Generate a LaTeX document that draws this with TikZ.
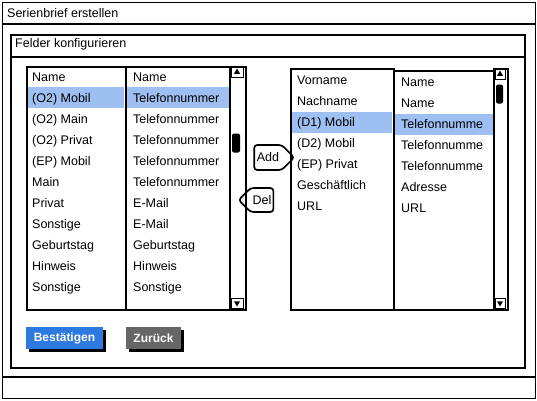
\documentclass[tikz,border=0pt]{standalone}
\usepackage{fontspec}
\setmainfont{Liberation Sans}
\usepackage{xcolor}
\usetikzlibrary{shapes.geometric, shapes.symbols, shadows, positioning}

\definecolor{selblue}{HTML}{9DBFF2}
\definecolor{btnblue}{HTML}{2C79E0}
\definecolor{btngray}{HTML}{666666}

\begin{document}
\begin{tikzpicture}[x=1pt, y=-1pt,
    box/.style={draw, line width=1.7pt, inner sep=0pt, anchor=north west},
    sel/.style={fill=selblue, inner sep=0pt, anchor=north west, minimum height=21pt},
    txt/.style={anchor=base west, inner sep=0pt, font=\fontsize{12.5}{15}\selectfont},
    thumb/.style={fill=black, rounded corners=2pt, minimum width=8pt, minimum height=19pt, inner sep=0pt},
    arrowbox/.style={draw, line width=1pt, minimum width=12pt, minimum height=10pt, inner sep=0pt},
    tri/.style={regular polygon, regular polygon sides=3, fill=black, minimum size=7pt, inner sep=0pt},
    movebtn/.style={draw, line width=1.7pt, signal, signal pointer angle=90, rounded corners=3pt, inner sep=2pt, font=\fontsize{12.5}{15}\selectfont},
    button/.style={text=white, minimum height=22pt, inner sep=0pt, font=\fontsize{12}{15}\selectfont\bfseries,
        drop shadow={shadow xshift=3pt, shadow yshift=-3pt, opacity=1, fill=black}}]
    \useasboundingbox (0,0) rectangle (537,400);

    % window
    \node[box, minimum width=533pt, minimum height=396pt] (win) at (1.5,1.5) {};
    \node[box, minimum width=533pt, minimum height=21.5pt] (wintitle) at (1.5,1.5) {};
    \node[txt] (wintext) at (7,17) {Serienbrief erstellen};
    \node[box, minimum width=533pt, minimum height=21.5pt] (status) at (1.5,376) {};

    % panel
    \node[box, minimum width=514pt, minimum height=333pt] (panel) at (10,34) {};
    \node[box, minimum width=514pt, minimum height=22pt] (paneltitle) at (10,34) {};
    \node[txt] (paneltext) at (15,47) {Felder konfigurieren};

    % left list
    \node[sel, minimum width=98pt] (selA) at (26,87) {};
    \node[sel, minimum width=103pt] (selB) at (126,87) {};
    \node[box, minimum width=99pt, minimum height=243pt] (srcA) at (26,66) {};
    \node[box, minimum width=104pt, minimum height=243pt] (srcB) at (125,66) {};
    \node[box, minimum width=16pt, minimum height=243pt] (srcscroll) at (229,66) {};
    \foreach \i/\a/\b in {0/Name/Name, 1/(O2) Mobil/Telefonnummer, 2/(O2) Main/Telefonnummer,
        3/(O2) Privat/Telefonnummer, 4/(EP) Mobil/Telefonnummer, 5/Main/Telefonnummer,
        6/Privat/E-Mail, 7/Sonstige/E-Mail, 8/Geburtstag/Geburtstag, 9/Hinweis/Hinweis,
        10/Sonstige/Sonstige} {
        \node[txt] (srcA\i) at (32,81+21*\i) {\a};
        \node[txt] (srcB\i) at (133,81+21*\i) {\b};
    }
    \node[arrowbox] (srcup) at (237,72) {};
    \node[tri] (srcuptri) at (srcup.center) {};
    \node[arrowbox] (srcdown) at (237,303) {};
    \node[tri, shape border rotate=180] (srcdowntri) at (srcdown.center) {};
    \node[thumb] (srcthumb) at (236,143) {};

    % add / del
    \node[movebtn, signal to=east, minimum width=40pt, minimum height=25pt] (add) at (268,157.5) {Add};
    \node[movebtn, signal to=west, minimum width=31pt, minimum height=24pt] (del) at (262,200) {Del};

    % right list
    \node[sel, minimum width=102pt] (selC) at (290,112) {};
    \node[sel, minimum width=99pt] (selD) at (394,114) {};
    \node[box, minimum width=103pt, minimum height=241pt] (dstA) at (290,68) {};
    \node[box, minimum width=100pt, minimum height=239pt] (dstB) at (393,70) {};
    \node[box, minimum width=14pt, minimum height=241pt] (dstscroll) at (493,68) {};
    \foreach \i/\a in {0/Vorname, 1/Nachname, 2/(D1) Mobil, 3/(D2) Mobil, 4/(EP) Privat,
        5/Geschäftlich, 6/URL} {
        \node[txt] (dstA\i) at (297,84+21*\i) {\a};
    }
    \foreach \i/\b in {0/Name, 1/Name, 2/Telefonnumme, 3/Telefonnumme, 4/Telefonnumme,
        5/Adresse, 6/URL} {
        \node[txt] (dstB\i) at (401,86+21*\i) {\b};
    }
    \node[arrowbox, minimum width=10pt] (dstup) at (500,74) {};
    \node[tri] (dstuptri) at (dstup.center) {};
    \node[arrowbox, minimum width=10pt] (dstdown) at (500,303) {};
    \node[tri, shape border rotate=180] (dstdowntri) at (dstdown.center) {};
    \node[thumb, minimum width=7pt] (dstthumb) at (499.5,94) {};

    % buttons
    \node[button, fill=btnblue, minimum width=77pt] (ok) at (64.5,338) {Bestätigen};
    \node[button, fill=btngray, minimum width=55pt] (back) at (153.5,338) {Zurück};
\end{tikzpicture}
\end{document}
